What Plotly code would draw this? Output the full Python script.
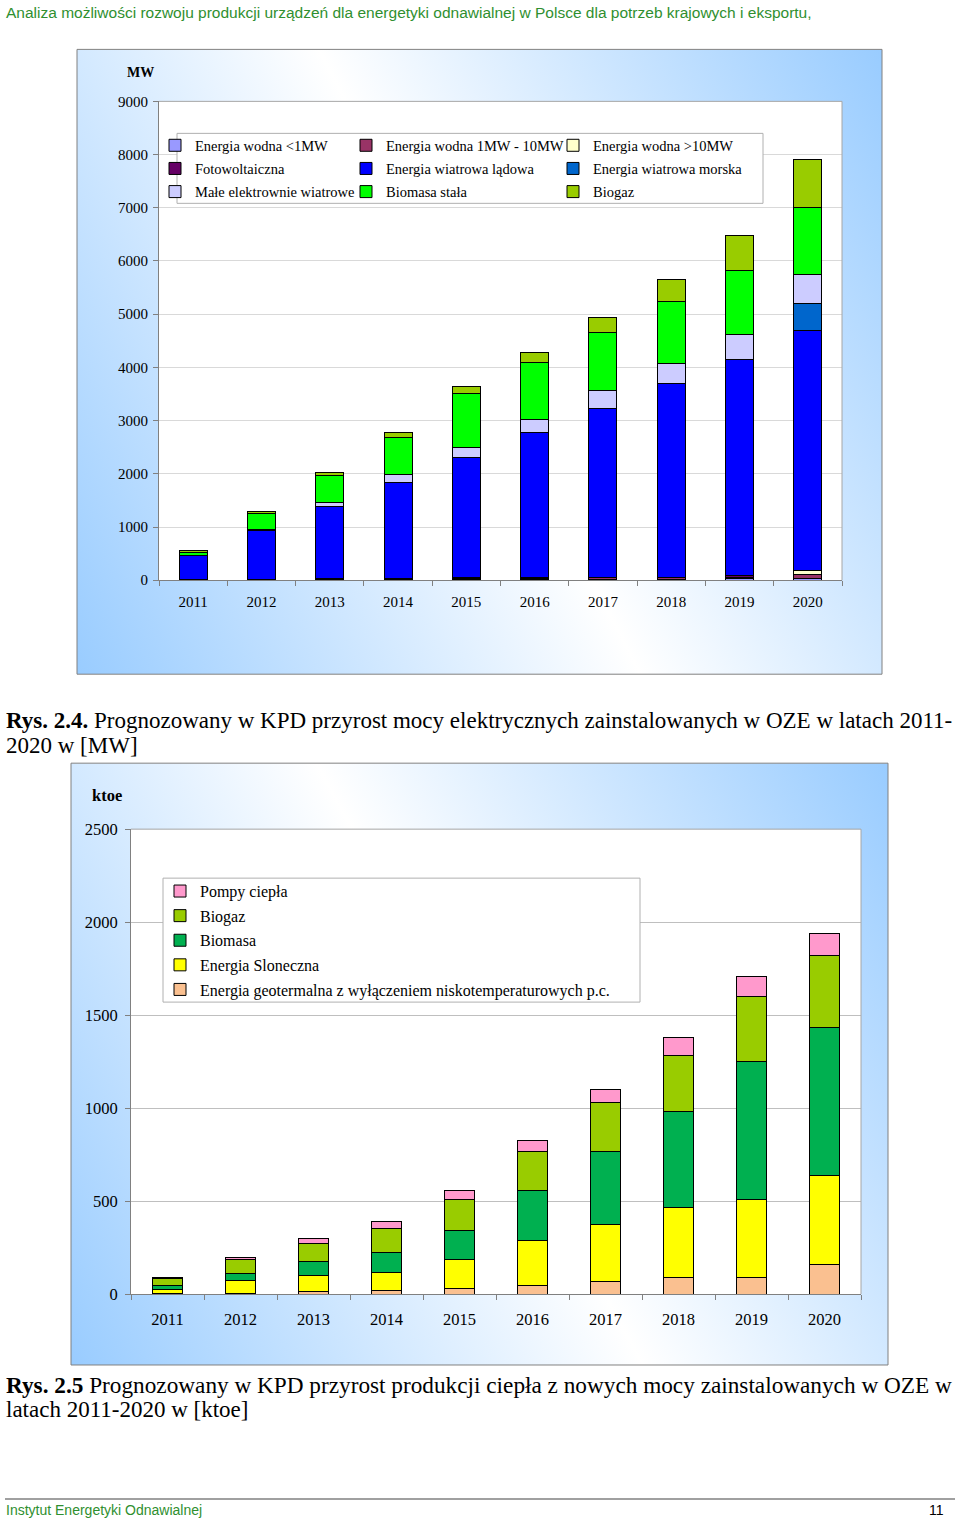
import base64
import plotly.graph_objects as go

# ---------------- data ----------------
years = ['2011', '2012', '2013', '2014', '2015', '2016', '2017', '2018', '2019', '2020']

# Chart 1 (MW), stacked bottom -> top
wodna_lt1 = [3, 5, 8, 10, 12, 15, 18, 20, 25, 30]
wodna_1_10 = [5, 8, 12, 15, 18, 25, 27, 30, 35, 80]
wodna_gt10 = [0, 0, 0, 0, 0, 0, 0, 0, 0, 75]
fotowoltaiczna = [2, 2, 10, 10, 30, 5, 10, 5, 35, 5]
wiatr_ladowa = [450, 920, 1350, 1800, 2250, 2730, 3170, 3640, 4050, 4510]
wiatr_morska = [0, 0, 0, 0, 0, 0, 0, 0, 0, 505]
male_wiatrowe = [0, 10, 90, 145, 185, 255, 345, 385, 475, 535]
biomasa_stala = [55, 300, 500, 700, 1010, 1055, 1095, 1165, 1195, 1265]
biogaz_mw = [38, 46, 60, 100, 138, 190, 276, 405, 660, 905]

mw_names = ['Energia wodna <1MW', 'Energia wodna 1MW - 10MW', 'Energia wodna >10MW',
            'Fotowoltaiczna', 'Energia wiatrowa lądowa', 'Energia wiatrowa morska',
            'Małe elektrownie wiatrowe', 'Biomasa stała', 'Biogaz']
mw_values = [wodna_lt1, wodna_1_10, wodna_gt10, fotowoltaiczna, wiatr_ladowa,
             wiatr_morska, male_wiatrowe, biomasa_stala, biogaz_mw]
mw_colors = ['#9999FF', '#993366', '#FFFFCC', '#660066', '#0000FF',
             '#0066CC', '#CCCCFF', '#00FF00', '#99CC00']
mw_legend = ['legend', 'legend2', 'legend3', 'legend', 'legend2',
             'legend3', 'legend', 'legend2', 'legend3']

# Chart 2 (ktoe), stacked bottom -> top
geotermalna = [2, 5, 15, 20, 32, 46, 65, 88, 88, 160]
sloneczna = [20, 68, 82, 98, 155, 240, 307, 378, 418, 479]
biomasa = [25, 38, 77, 105, 155, 273, 397, 515, 746, 796]
biogaz_ktoe = [35, 72, 95, 132, 164, 210, 260, 303, 349, 384]
pompy = [8, 12, 30, 36, 53, 59, 70, 94, 105, 122]

kt_names = ['Energia geotermalna z wyłączeniem niskotemperaturowych p.c.',
            'Energia Sloneczna', 'Biomasa', 'Biogaz', 'Pompy ciepła']
kt_values = [geotermalna, sloneczna, biomasa, biogaz_ktoe, pompy]
kt_colors = ['#FAC090', '#FFFF00', '#00B050', '#99CC00', '#FF99CC']
kt_rank = [5, 4, 3, 2, 1]

# ---------------- helpers ----------------
W, H = 960, 1520


def fx(x):
    return x / W


def fy(y):
    # compensate for the page offset / vertical scaling seen in the screenshot
    yf = (y - 8.6) / 0.9878
    return 1 - yf / H


SERIF = 'Liberation Serif'
SANS = 'Liberation Sans'
GREEN = '#2F8F2F'

fig = go.Figure()

for name, vals, col, lg in zip(mw_names, mw_values, mw_colors, mw_legend):
    fig.add_trace(go.Bar(
        x=years, y=vals, name=name, xaxis='x', yaxis='y',
        marker=dict(color=col, line=dict(color='#000000', width=1)),
        legend=lg, legendgroup=name))

for name, vals, col, rk in zip(kt_names, kt_values, kt_colors, kt_rank):
    fig.add_trace(go.Bar(
        x=years, y=vals, name=name, xaxis='x2', yaxis='y2',
        marker=dict(color=col, line=dict(color='#000000', width=1)),
        legend='legend4', legendgroup=name, legendrank=rk))

# gradient background image (SVG)
svg = ('<svg xmlns="http://www.w3.org/2000/svg" width="100" height="100" '
       'viewBox="0 0 100 100" preserveAspectRatio="none"><defs>'
       '<linearGradient id="g" x1="-0.103" y1="0.741" x2="1.103" y2="0.259">'
       '<stop offset="0" stop-color="#99CCFF"/><stop offset="0.5" stop-color="#FFFFFF"/>'
       '<stop offset="1" stop-color="#99CCFF"/></linearGradient></defs>'
       '<rect width="100" height="100" fill="url(#g)"/></svg>')
src = 'data:image/svg+xml;base64,' + base64.b64encode(svg.encode()).decode()

boxes = [(77, 49, 882, 674), (71, 763, 888, 1365)]
images = []
shapes = []
for (x0, y0, x1, y1) in boxes:
    images.append(dict(source=src, xref='paper', yref='paper', x=fx(x0), y=fy(y0),
                       sizex=(x1 - x0) / W, sizey=fy(y0) - fy(y1), xanchor='left',
                       yanchor='top', sizing='stretch', layer='below'))
    shapes.append(dict(type='rect', xref='paper', yref='paper', x0=fx(x0), x1=fx(x1),
                       y0=fy(y1), y1=fy(y0), line=dict(color='#808080', width=1),
                       layer='below'))

plots = [(159, 101, 842, 580), (131, 829, 861, 1294)]
for (x0, y0, x1, y1) in plots:
    shapes.append(dict(type='rect', xref='paper', yref='paper', x0=fx(x0), x1=fx(x1),
                       y0=fy(y1), y1=fy(y0), fillcolor='#FFFFFF', line=dict(width=0),
                       layer='below'))
    shapes.append(dict(type='line', xref='paper', yref='paper', x0=fx(x0), x1=fx(x1),
                       y0=fy(y0), y1=fy(y0), line=dict(color='#A6A6A6', width=1), layer='above'))
    shapes.append(dict(type='line', xref='paper', yref='paper', x0=fx(x1), x1=fx(x1),
                       y0=fy(y0), y1=fy(y1), line=dict(color='#A6A6A6', width=1), layer='above'))

# legend boxes
for (x0, y0, x1, y1) in [(177, 133, 763, 203), (163, 878, 640, 1002)]:
    shapes.append(dict(type='rect', xref='paper', yref='paper', x0=fx(x0), x1=fx(x1),
                       y0=fy(y1), y1=fy(y0), fillcolor='#FFFFFF',
                       line=dict(color='#B0B0B0', width=1), layer='above'))

# footer line
shapes.append(dict(type='line', xref='paper', yref='paper', x0=fx(5), x1=fx(955),
                   y0=fy(1499), y1=fy(1499), line=dict(color='#808080', width=1.5)))

axis_common = dict(showline=True, linecolor='#808080', linewidth=1, ticks='outside',
                   ticklen=5, tickcolor='#808080')

layout = dict(
    width=W, height=H, margin=dict(l=0, r=0, t=0, b=0),
    paper_bgcolor='#FFFFFF', plot_bgcolor='rgba(0,0,0,0)',
    barmode='stack', bargap=0.59,
    images=images, shapes=shapes,
    xaxis=dict(domain=[fx(159), fx(842)], anchor='y', type='category',
               tickson='boundaries', showgrid=False, ticklabelstandoff=8,
               tickfont=dict(family=SERIF, size=15, color='#000000'), **axis_common),
    yaxis=dict(domain=[fy(580), fy(101)], anchor='x', range=[0, 9000], dtick=1000,
               showgrid=True, gridcolor='#D9D9D9', zeroline=False, ticklabelstandoff=2,
               tickfont=dict(family=SERIF, size=15, color='#000000'), **axis_common),
    xaxis2=dict(domain=[fx(131), fx(861)], anchor='y2', type='category',
                tickson='boundaries', showgrid=False, ticklabelstandoff=10,
                tickfont=dict(family=SERIF, size=16.5, color='#000000'), **axis_common),
    yaxis2=dict(domain=[fy(1294), fy(829)], anchor='x2', range=[0, 2500], dtick=500,
                showgrid=True, gridcolor='#BFBFBF', zeroline=False, ticklabelstandoff=4,
                tickfont=dict(family=SERIF, size=16.5, color='#000000'), **axis_common),
)

leg_common = dict(bgcolor='rgba(0,0,0,0)', borderwidth=0, xanchor='left', yanchor='top',
                  orientation='v', traceorder='grouped')
f1 = dict(family=SERIF, size=14.5, color='#000000')
layout['legend'] = dict(x=fx(155), y=fy(129), font=f1, tracegroupgap=1.3, **leg_common)
layout['legend2'] = dict(x=fx(346), y=fy(129), font=f1, tracegroupgap=1.3, **leg_common)
layout['legend3'] = dict(x=fx(553), y=fy(129), font=f1, tracegroupgap=1.3, **leg_common)
layout['legend4'] = dict(x=fx(160), y=fy(874), font=dict(family=SERIF, size=16, color='#000000'),
                         tracegroupgap=0.8, **leg_common)

annotations = [
    dict(text='Analiza możliwości rozwoju produkcji urządzeń dla energetyki odnawialnej w Polsce dla potrzeb krajowych i eksportu,',
         x=fx(4), y=fy(12), font=dict(family=SANS, size=15.5, color=GREEN)),
    dict(text='<b>MW</b>', x=fx(125), y=fy(72), font=dict(family=SERIF, size=14, color='#000000')),
    dict(text='<b>ktoe</b>', x=fx(90), y=fy(795), font=dict(family=SERIF, size=16.5, color='#000000')),
    dict(text='<b>Rys. 2.4.</b> Prognozowany w KPD przyrost mocy elektrycznych zainstalowanych w OZE w latach 2011-',
         x=fx(4), y=fy(720), font=dict(family=SERIF, size=23, color='#000000')),
    dict(text='2020 w [MW]', x=fx(4), y=fy(745), font=dict(family=SERIF, size=23, color='#000000')),
    dict(text='<b>Rys. 2.5</b> Prognozowany w KPD przyrost produkcji ciepła z nowych mocy zainstalowanych w OZE w',
         x=fx(4), y=fy(1385), font=dict(family=SERIF, size=23.25, color='#000000')),
    dict(text='latach 2011-2020 w [ktoe]', x=fx(4), y=fy(1410), font=dict(family=SERIF, size=23, color='#000000')),
    dict(text='Instytut Energetyki Odnawialnej', x=fx(4), y=fy(1510),
         font=dict(family=SANS, size=14, color=GREEN)),
    dict(text='11', x=fx(946), y=fy(1510), xanchor='right',
         font=dict(family=SANS, size=14, color='#000000')),
]
for a in annotations:
    a.setdefault('xanchor', 'left')
    a.update(xref='paper', yref='paper', yanchor='middle', showarrow=False)
layout['annotations'] = annotations

fig.update_layout(**layout)
fig.write_html('out.html')
